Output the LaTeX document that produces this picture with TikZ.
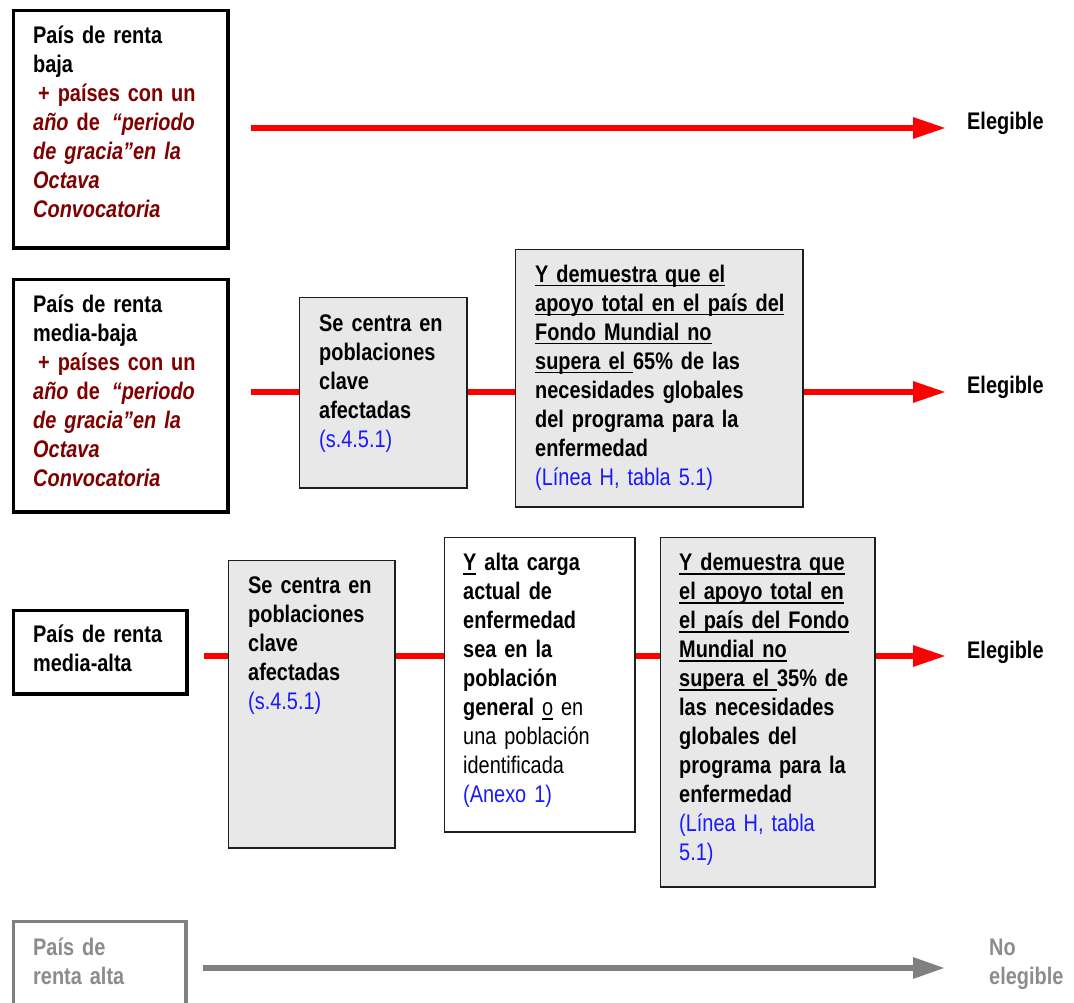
\documentclass[tikz,border=0pt]{standalone}
\usepackage{fontspec}
\setmainfont{Liberation Sans}[FakeStretch=0.83]
\usetikzlibrary{arrows.meta,calc}
\definecolor{dred}{RGB}{128,0,0}
\definecolor{refblue}{RGB}{25,25,255}
\definecolor{boxgray}{RGB}{232,232,232}
\definecolor{midgray}{RGB}{128,128,128}
\definecolor{txtgray}{RGB}{140,140,140}
\definecolor{arrred}{RGB}{255,0,0}
\definecolor{thinline}{RGB}{30,30,30}
\newcommand\myul[1]{\leavevmode\setbox0=\hbox{#1}\rlap{\rule[-4.3pt]{\wd0}{1.7pt}}\box0\relax}
\newcommand\refc[1]{\leavevmode{\mdseries\color{refblue}#1}}
\begin{document}
\begin{tikzpicture}[x=1pt,y=-1pt,
  thickbox/.style={draw=black, line width=3.5pt, fill=white, anchor=north west, inner sep=0pt},
  greybox/.style={draw=midgray, line width=3.5pt, fill=white, anchor=north west, inner sep=0pt},
  thinbox/.style={draw=thinline, line width=1.6pt, fill=boxgray, anchor=north west, inner sep=0pt},
  whitebox/.style={draw=thinline, line width=1.6pt, fill=white, anchor=north west, inner sep=0pt},
  txt/.style={anchor=north west, inner sep=0pt, yshift=20.3pt, text width=400pt, align=left,
    font=\fontsize{24}{29}\selectfont\bfseries, execute at begin node=\strut},
  redline/.style={draw=arrred, line width=6pt},
  redarrow/.style={draw=arrred, line width=6pt, -{Triangle[length=33pt,width=20pt]}},
  grayarrow/.style={draw=midgray, line width=6pt, -{Triangle[length=32pt,width=20pt]}}]
\useasboundingbox (0,0) rectangle (1074,1003);
\clip (0,0) rectangle (1074,1003);

% boxes
\node[thickbox, minimum width=214.5pt, minimum height=237.5pt] (B1) at (11.75,8.75) {};
\node[thickbox, minimum width=214.5pt, minimum height=232.5pt] (B2) at (11.75,277.75) {};
\node[thickbox, minimum width=173.5pt, minimum height=83.5pt] (B3) at (11.75,608.75) {};
\node[greybox, minimum width=172.5pt, minimum height=110pt] (B4) at (11.75,919.75) {};
\node[thinbox, minimum width=167.4pt, minimum height=190.4pt] (G2a) at (298.8,296.8) {};
\node[thinbox, minimum width=287.4pt, minimum height=257.4pt] (G2b) at (514.8,248.8) {};
\node[thinbox, minimum width=166.4pt, minimum height=287.4pt] (G3a) at (227.8,559.8) {};
\node[whitebox, minimum width=190.4pt, minimum height=294.4pt] (W3) at (443.8,536.8) {};
\node[thinbox, minimum width=214.4pt, minimum height=349.4pt] (G3c) at (659.8,536.8) {};

% arrow end points
\coordinate (e1) at (946,128);
\coordinate (e2) at (946,392);
\coordinate (e3) at (946,656);
\coordinate (e4) at (945,968);

% connectors
\draw[redarrow] ($(B1.east |- e1)+(21,0)$) -- (e1);
\draw[redline] ($(B2.east |- e2)+(21,0)$) -- (G2a.west |- e2);
\draw[redline] (G2a.east |- e2) -- (G2b.west |- e2);
\draw[redarrow] (G2b.east |- e2) -- (e2);
\draw[redline] ($(B3.east |- e3)+(15,0)$) -- (G3a.west |- e3);
\draw[redline] (G3a.east |- e3) -- (W3.west |- e3);
\draw[redline] (W3.east |- e3) -- (G3c.west |- e3);
\draw[redarrow] (G3c.east |- e3) -- (e3);
\draw[grayarrow] ($(B4.east |- e4)+(15,0)$) -- (e4);

% texts
\node[txt] (t1) at (33,43) {País de renta\\baja\\
\textcolor{dred}{\hspace*{5pt}+ países con un}\\
\textcolor{dred}{\textit{año} de\hspace{12pt}\textit{“periodo}}\\
\textcolor{dred}{\textit{de gracia”en la}}\\
\textcolor{dred}{\textit{Octava}}\\
\textcolor{dred}{\textit{Convocatoria}}};

\node[txt] (t2) at (33,312) {País de renta\\media-baja\\
\textcolor{dred}{\hspace*{5pt}+ países con un}\\
\textcolor{dred}{\textit{año} de\hspace{12pt}\textit{“periodo}}\\
\textcolor{dred}{\textit{de gracia”en la}}\\
\textcolor{dred}{\textit{Octava}}\\
\textcolor{dred}{\textit{Convocatoria}}};

\node[txt] (tG2a) at (319,331) {Se centra en\\poblaciones\\clave\\afectadas\\\refc{(s.4.5.1)}};

\node[txt] (tG2b) at (535,282) {\myul{Y demuestra que el}\\
\myul{apoyo total en el país del}\\
\myul{Fondo Mundial no}\\
\myul{supera el\ }65\% de las\\
necesidades globales\\
del programa para la\\
enfermedad\\
\refc{(Línea H, tabla 5.1)}};

\node[txt] (t3) at (33,642) {País de renta\\media-alta};

\node[txt] (tG3a) at (248,593) {Se centra en\\poblaciones\\clave\\afectadas\\\refc{(s.4.5.1)}};

\node[txt] (tW3) at (463,570) {\myul{Y} alta carga\\
actual de\\
enfermedad\\
sea en la\\
población\\
general {\mdseries\myul{o} en}\\
\leavevmode{\mdseries una población}\\
\leavevmode{\mdseries identificada}\\
\refc{(Anexo 1)}};

\node[txt] (tG3c) at (679,570) {\myul{Y demuestra que}\\
\myul{el apoyo total en}\\
\myul{el país del Fondo}\\
\myul{Mundial no}\\
\myul{supera el\ }35\% de\\
las necesidades\\
globales del\\
programa para la\\
enfermedad\\
\refc{(Línea H, tabla}\\
\refc{5.1)}};

\node[txt, text=txtgray] (t4) at (33,955) {País de\\renta alta};

\node[txt] (el1) at (967,129) {Elegible};
\node[txt] (el2) at (967,393) {Elegible};
\node[txt] (el3) at (967,658) {Elegible};
\node[txt, text=txtgray] (ne) at (989,955) {No\\elegible};
\end{tikzpicture}
\end{document}
